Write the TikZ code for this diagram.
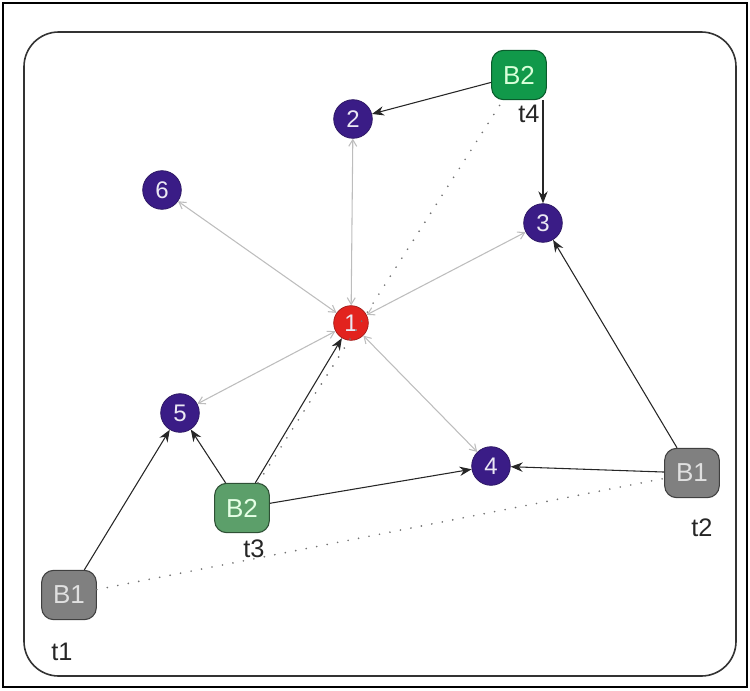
\documentclass[tikz,border=0pt]{standalone}
\usepackage{fontspec}
\setmainfont{Liberation Sans}
\usetikzlibrary{arrows.meta}
\definecolor{indigo}{HTML}{3A1C86}
\definecolor{redn}{HTML}{E2231E}
\definecolor{gtop}{HTML}{11994A}
\definecolor{glow}{HTML}{5C9F6A}
\definecolor{gb}{HTML}{808080}
\definecolor{ledge}{HTML}{BDBDBD}
\tikzset{
  circ/.style={circle, fill=indigo, draw=indigo!70!black, line width=0.5pt, minimum size=29pt, inner sep=0pt, text=white!90!indigo, font=\fontsize{18}{18}\selectfont},
  redc/.style={circ, fill=redn, draw=redn!70!black, minimum size=26pt},
  bbox/.style={rounded corners=9pt, minimum width=41pt, minimum height=37pt, inner sep=0pt, line width=0.8pt, font=\fontsize{19.5}{19.5}\selectfont},
  b2t/.style={bbox, fill=gtop, draw=gtop!60!black, text=white!85!green},
  b2l/.style={bbox, fill=glow, draw=glow!50!black, text=white!90!green},
  b1/.style={bbox, fill=gb, draw=gb!50!black, text=white!88!black},
  lab/.style={font=\fontsize{19}{19}\selectfont, text=black!85},
  blk/.style={-{Stealth[length=9pt,width=7pt]}, line width=0.8pt, black!85},
  gry/.style={{Straight Barb[length=5pt,width=6pt]}-{Straight Barb[length=5pt,width=6pt]}, line width=0.8pt, ledge},
  dot/.style={line width=1.4pt, black!55, line cap=round, dash pattern=on 0pt off 8pt},
}
\begin{document}
\begin{tikzpicture}[x=0.75pt,y=-0.75pt]
\useasboundingbox (0,0) rectangle (750,690);
\draw[line width=0.8pt] (3,3) rectangle (747,687);
\draw[line width=1.2pt, black!80, rounded corners=26pt] (24,32) rectangle (736,676);

\node[b2t] (b2top) at (519,75) {B2};
\node[b2l] (b2low) at (242,508) {B2};
\node[b1] (b1r) at (692,473) {B1};
\node[b1] (b1l) at (69,595) {B1};

\node[circ] (n2) at (353,119) {2};
\node[circ] (n6) at (162,190) {6};
\node[circ] (n3) at (543,223) {3};
\node[redc] (n1) at (351,323) {1};
\node[circ] (n5) at (180,413) {5};
\node[circ] (n4) at (491,466) {4};

\node[lab] (t4) at (529,114) {t4};
\node[lab] (t3) at (254,549) {t3};
\node[lab] (t2) at (702,528) {t2};
\node[lab] (t1) at (62,652) {t1};

% dotted links
\draw[dot] (b2low) -- (b2top);
\draw[dot] (b1l) -- (b1r);

% grey links
\draw[gry] (n1) -- (n2);
\draw[gry] (n1) -- (n6);
\draw[gry] (n1) -- (n3);
\draw[gry] (n1) -- (n5);
\draw[gry] (n1) -- (n4);

% black links
\draw[blk] (b2top) -- (n2);
\draw[blk] (b2top.south -| n3) -- (n3);
\draw[blk] ([xshift=10pt]b2low.north) -- (n1);
\draw[blk] (b2low) -- (n5);
\draw[blk] (b2low) -- (n4);
\draw[blk] (b1l) -- (n5);
\draw[blk] (b1r) -- (n4);
\draw[blk] (b1r) -- (n3);
\end{tikzpicture}
\end{document}
